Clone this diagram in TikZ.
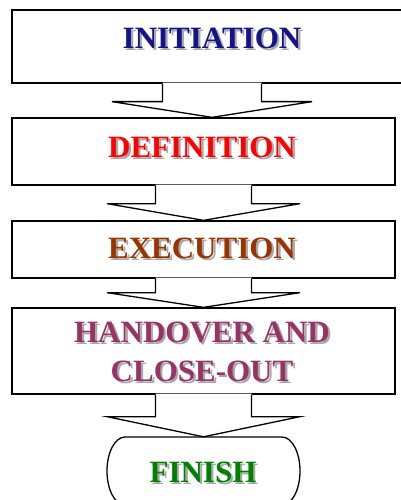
\documentclass[tikz,border=0pt]{standalone}
\usepackage{fontspec}
\setmainfont{Liberation Serif}
\usetikzlibrary{calc}
\definecolor{cnavy}{HTML}{14148A}
\definecolor{cred}{HTML}{FF0000}
\definecolor{cbrown}{HTML}{993300}
\definecolor{cplum}{HTML}{993366}
\definecolor{cgreen}{HTML}{008000}
\definecolor{shadowgray}{HTML}{A8A8A8}
\newcommand\shtext[2]{\makebox[0pt][l]{\hspace{2.2pt}\raisebox{-2.2pt}{\color{shadowgray}#2}}{\color{#1}#2}}
\newcommand\blockarrow[5]{%
  \path[fill=white] ($(#1.south)+(-#3,-1)$) -- ($(#1.south)+(-#3,#5)$) -- ($(#1.south)+(-#4,#5)$) -- ($(#1.south |- #2.north)$) -- ($(#1.south)+(#4,#5)$) -- ($(#1.south)+(#3,#5)$) -- ($(#1.south)+(#3,-1)$) -- cycle;
  \draw[outl] ($(#1.south)+(-#3,0)$) -- ($(#1.south)+(-#3,#5)$) -- ($(#1.south)+(-#4,#5)$) -- ($(#1.south |- #2.north)$) -- ($(#1.south)+(#4,#5)$) -- ($(#1.south)+(#3,#5)$) -- ($(#1.south)+(#3,0)$);}
\tikzset{
  outl/.style={draw=black,line width=1.3pt,line join=miter},
  stage/.style={outl,fill=white,rectangle,inner sep=0pt},
  lbl/.style={inner sep=0pt,align=center,font=\fontsize{31}{39}\selectfont\bfseries},
}
\begin{document}
\begin{tikzpicture}[x=1pt,y=-1pt]
\useasboundingbox (0,0) rectangle (401,500);
\node[stage,minimum width=400pt,minimum height=73pt] (b1) at (212,46.5) {};
\node[stage,minimum width=383pt,minimum height=67pt] (b2) at (203.5,151.5) {};
\node[stage,minimum width=383pt,minimum height=57pt] (b3) at (203.5,249.5) {};
\node[stage,minimum width=383pt,minimum height=86pt] (b4) at (203.5,351) {};
\node[minimum width=193pt,minimum height=68pt,inner sep=0pt] (b5) at (203.5,471) {};
\draw[outl] (125,437) -- (282,437) .. controls (291.94,437) and (300,452.2) .. (300,471) .. controls (300,489.8) and (291.94,505) .. (282,505) -- (125,505) .. controls (115.06,505) and (107,489.8) .. (107,471) .. controls (107,452.2) and (115.06,437) .. cycle;
\blockarrow{b1}{b2}{49.5}{100}{18}
\blockarrow{b2}{b3}{48}{96.5}{18}
\blockarrow{b3}{b4}{48}{96.5}{14}
\blockarrow{b4}{b5}{48}{96.5}{22}
\node[lbl] (t1) at (212,39) {\shtext{cnavy}{INITIATION}};
\node[lbl] (t2) at (202,148) {\shtext{cred}{DEFINITION}};
\node[lbl] (t3) at (202,249) {\shtext{cbrown}{EXECUTION}};
\node[lbl] (t4) at (202,353) {\shtext{cplum}{HANDOVER AND}\\\shtext{cplum}{CLOSE-OUT}};
\node[lbl] (t5) at (203,473) {\shtext{cgreen}{FINISH}};
\end{tikzpicture}
\end{document}
